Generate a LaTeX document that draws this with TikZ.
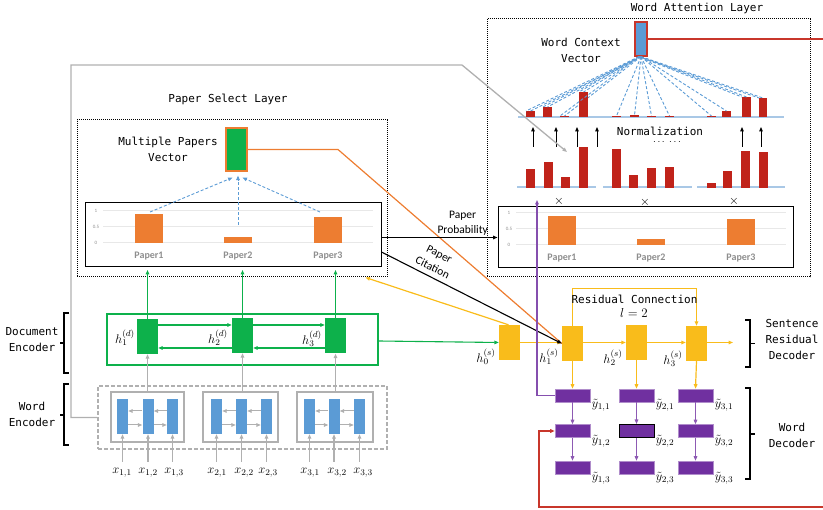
\documentclass[tikz,border=0pt]{standalone}
\usepackage{fix-cm}
\usepackage{fontspec}
\newfontfamily\monof{DejaVu Sans Mono}
\newfontfamily\calf{Carlito}
\usetikzlibrary{arrows.meta,calc}
\definecolor{cgreen}{HTML}{0DB14B}
\definecolor{cblue}{HTML}{5B9BD5}
\definecolor{cred}{HTML}{C0231A}
\definecolor{corange}{HTML}{ED7D31}
\definecolor{cyellow}{HTML}{F9BC1B}
\definecolor{cpurple}{HTML}{7030A0}
\definecolor{clred}{HTML}{C8362B}
\definecolor{cgray}{HTML}{B0B0B0}
\definecolor{cbase}{HTML}{A9C8E6}
\definecolor{cgrid}{HTML}{E8E8E8}
\definecolor{ctxt}{HTML}{8E8E8E}
\tikzset{
  lab/.style={font=\monof\fontsize{11}{16}\selectfont, align=center, inner sep=0},
  sans/.style={font=\calf\fontsize{11.5}{15}\selectfont, align=center, inner sep=1pt},
  mth/.style={font=\fontsize{12.5}{14}\selectfont, inner sep=0},
  tick/.style={font=\calf\fontsize{5}{6}\selectfont, text=ctxt, inner sep=0},
  plab/.style={font=\calf\bfseries\fontsize{10}{11}\selectfont, text=ctxt, inner sep=0},
  dotbox/.style={draw, line width=1pt, dash pattern=on 1pt off 1pt, inner sep=0},
  chartbox/.style={draw, line width=1pt, inner sep=0},
  gnode/.style={fill=cgreen, minimum width=21, minimum height=35, inner sep=0},
  ynode/.style={fill=cyellow, minimum width=21, minimum height=35, inner sep=0},
  pnode/.style={fill=cpurple, draw=cpurple!55, line width=0.6pt, minimum width=35, minimum height=13, inner sep=0},
  bnode/.style={fill=cblue, minimum width=11, minimum height=35, inner sep=0},
  gbox/.style={draw=cgray, line width=1.3pt, minimum height=50, inner sep=0},
  dline/.style={cblue, line width=0.9pt, dash pattern=on 3pt off 2pt},
  garr/.style={cgreen, line width=1.1pt, ->},
  grarr/.style={cgray, line width=1.3pt, ->},
  yarr/.style={cyellow, line width=1.2pt, ->},
  parr/.style={cpurple!80, line width=1.1pt, ->},
  bline/.style={black, line width=1.1pt},
  brc/.style={black, line width=1.2pt},
}
\newcommand\paperchart{%
  \foreach \g in {8,24,40} \draw[cgrid, line width=1pt] (18,\g) -- (288,\g);
  \node[tick] at (11,8) {1};
  \node[tick] at (11,24) {0.5};
  \node[tick] at (11,40) {0};
  \fill[corange] (50,11) rectangle (78,40);
  \fill[corange] (139,34) rectangle (167,40);
  \fill[corange] (229,14) rectangle (257,40);
  \node[plab] at (64,53) {Paper1};
  \node[plab] at (153,53) {Paper2};
  \node[plab] at (243,53) {Paper3};
}
\begin{document}
\begin{tikzpicture}[x=1pt,y=-1pt,>={Triangle[length=4.5pt,width=3.6pt]}]
\useasboundingbox (0,0) rectangle (823,510);

% ---------------- Word Attention Layer ----------------
\node[dotbox, minimum width=323, minimum height=258] (wal) at (648.5,148) {};
\node[lab] (waltitle) at (697,8) {Word Attention Layer};
\node[fill=cblue, draw=clred, line width=1.3pt, minimum width=12, minimum height=34, inner sep=0] (wcv) at (641,39) {};
\node[lab] (wcvlab) at (581,50) {Word Context\\Vector};
\draw[cbase, line width=1.2pt] (518,117) -- (784,117);
\foreach \a/\b/\t in {526/535/111,543/552/107,560/569/116,579/588/92,612/621/116,630/639/115.5,647/656/116,665/674/116,707/716/116,722/731/111,742/751/97,759/767/98} {
  \fill[cred] (\a,\t) rectangle (\b,117.5);
  \draw[dline] (wcv.south) -- ({(\a+\b)/2},\t);
}
\foreach \a/\t in {526/111,543/107,560/116,579/92,742/97,759/98} {
  \draw[dline] ($(wcv.south)+(-2,0)$) -- (\a,\t);
}
\node[lab] (norm) at (660,131) {Normalization};
\node[font=\bfseries\fontsize{10}{10}\selectfont, inner sep=0] (ndots) at (667,142) {$\cdots\;\cdots$};
\foreach \x in {533,556,577,597,742,761} \draw[->, line width=1pt] (\x,147) -- (\x,127);
\foreach \a/\b in {517/596,603/692,697/785} \draw[cbase, line width=1.2pt] (\a,187) -- (\b,187);
\foreach \a/\b/\t in {526/535/169,544/553/162,561/570/177,579/588/147,612/621/149,629/638/175,647/656/168,665/674/167,707/716/183,723/732/171,741/750/151,759/768/152}
  \fill[cred] (\a,\t) rectangle (\b,188.5);
\node[mth] (t1) at (559,201) {$\times$};
\node[mth] (t2) at (645,202) {$\times$};
\node[mth] (t3) at (734,201) {$\times$};
\node[chartbox, minimum width=295, minimum height=61] (rchart) at (645.5,237.5) {};
\begin{scope}[shift={(498,205)}] \paperchart \end{scope}

% ---------------- Paper Select Layer ----------------
\node[dotbox, minimum width=310, minimum height=157] (psl) at (232,198.5) {};
\node[lab] (psltitle) at (228,99) {Paper Select Layer};
\node[fill=cgreen, draw=corange, line width=1.2pt, minimum width=21, minimum height=43, inner sep=0] (mpv) at (236.5,149.5) {};
\node[lab] (mpvlab) at (168,149) {Multiple Papers\\Vector};
\node[chartbox, minimum width=296, minimum height=64] (lchart) at (233,235) {};
\begin{scope}[shift={(85,203)}] \paperchart \end{scope}
\draw[dline,->] (150,212) -- ($(mpv.south)+(-4,6)$);
\draw[dline,->] (238,225) -- ($(mpv.south)+(1.5,4)$);
\draw[dline,->] (320,212) -- ($(mpv.south)+(6,6)$);

% ---------------- Document Encoder ----------------
\node[draw=cgreen, line width=1.2pt, minimum width=271, minimum height=51, inner sep=0] (denc) at (242.5,339.5) {};
\node[gnode] (d1) at (147.5,336.5) {};
\node[gnode] (d2) at (242.5,335.5) {};
\node[gnode] (d3) at (335.5,336) {};
\draw[garr] (d1.east |- 0,325) -- (d2.west |- 0,325);
\draw[garr] (d2.west |- 0,348) -- (d1.east |- 0,348);
\draw[garr] (d2.east |- 0,325) -- (d3.west |- 0,325);
\draw[garr] (d3.west |- 0,348) -- (d2.east |- 0,348);
\node[mth] (hd1) at (125,338) {$h_1^{(d)}$};
\node[mth] (hd2) at (218,338) {$h_2^{(d)}$};
\node[mth] (hd3) at (312,339) {$h_3^{(d)}$};
\foreach \n in {d1,d2,d3} \draw[garr] (\n.north) -- (\n.north |- 0,270);

% ---------------- Word Encoder ----------------
\node[draw=cgray, line width=1.2pt, dash pattern=on 4pt off 2pt, minimum width=289, minimum height=63, inner sep=0] (wenc) at (242.5,417.5) {};
\node[gbox, minimum width=73] (wb1) at (147.5,417) {};
\node[gbox, minimum width=75] (wb2) at (240.5,417) {};
\node[gbox, minimum width=76] (wb3) at (335,417) {};
\foreach \n/\x in {b11/122.5,b12/148,b13/172.5,b21/216.5,b22/241.5,b23/266.5,b31/309.5,b32/334,b33/359.5}
  \node[bnode] (\n) at (\x,416.5) {};
\foreach \g in {1,2,3} {
  \draw[grarr, line width=1pt] (b\g2.west |- 0,411) -- (b\g1.east |- 0,411);
  \draw[grarr, line width=1pt] (b\g3.west |- 0,411) -- (b\g2.east |- 0,411);
  \draw[grarr, line width=1pt] (b\g1.east |- 0,425) -- (b\g2.west |- 0,425);
  \draw[grarr, line width=1pt] (b\g2.east |- 0,425) -- (b\g3.west |- 0,425);
}
\draw[grarr] (d1.south |- wb1.north) -- (d1.south);
\draw[grarr] (d2.south |- wb2.north) -- (d2.south);
\draw[grarr] (d3.south |- wb3.north) -- (d3.south);
\foreach \n/\x/\i/\j in {x11/122/1/1,x12/148/1/2,x13/174/1/3,x21/217/2/1,x22/244/2/2,x23/268/2/3,x31/310/3/1,x32/337/3/2,x33/363/3/3}
  \node[mth] (\n) at (\x,473) {$x_{\i,\j}$};
\foreach \i in {1,2,3} \foreach \j in {1,2,3}
  \draw[grarr] (b\i\j.south |- 0,462) -- (b\i\j.south);

% left braces and labels
\draw[brc] (69,313) -- (64,313) -- (64,373) -- (69,373) (64,343) -- (60,343);
\draw[brc] (69,384) -- (64,384) -- (64,445) -- (69,445) (64,415) -- (60,415);
\node[lab] (delab) at (32,340) {Document\\Encoder};
\node[lab] (welab) at (32,414) {Word\\Encoder};

% ---------------- Sentence Residual Decoder ----------------
\node[ynode] (h0) at (509.5,342.5) {};
\node[ynode] (h1s) at (572.5,343.5) {};
\node[ynode] (h2s) at (636.5,342.5) {};
\node[ynode] (h3s) at (696.5,343.5) {};
\coordinate (hout) at (733,342.5);
\draw[yarr] (h0.east |- 0,342.5) -- (h1s.west |- 0,342.5);
\draw[yarr] (h1s.east |- 0,342.5) -- (h2s.west |- 0,342.5);
\draw[yarr] (h2s.east |- 0,342.5) -- (h3s.west |- 0,342.5);
\draw[yarr] (h3s.east |- 0,342.5) -- (hout);
\draw[yarr] (h1s.north) -- ++(0,-37) -| (h3s.north);
\node[lab] (rclab) at (634.5,299) {Residual Connection};
\node[mth, font=\fontsize{13}{15}\selectfont] (llab) at (634,313) {$l=2$};
\node[mth] (hs0) at (486,357) {$h_0^{(s)}$};
\node[mth] (hs1) at (549,357) {$h_1^{(s)}$};
\node[mth] (hs2) at (613,358) {$h_2^{(s)}$};
\node[mth] (hs3) at (673,359) {$h_3^{(s)}$};

% ---------------- Word Decoder ----------------
\node[pnode] (y11) at (572.5,395.5) {};
\node[pnode] (y12) at (572.5,431) {};
\node[pnode] (y13) at (572.5,467.5) {};
\node[pnode] (y21) at (636.5,395.5) {};
\node[pnode, draw=black, line width=1pt] (y22) at (636.5,431) {};
\node[pnode] (y23) at (636.5,467.5) {};
\node[pnode] (y31) at (695.5,395.5) {};
\node[pnode] (y32) at (695.5,431) {};
\node[pnode] (y33) at (695.5,467.5) {};
\draw[yarr] (h1s.south) -- (y11.north);
\draw[yarr] (h2s.south) -- (y21.north);
\draw[yarr] (h3s.south) -- (y31.north);
\foreach \c in {1,2,3} {
  \draw[parr] (y\c1.south) -- (y\c2.north);
  \draw[parr] (y\c2.south) -- (y\c3.north);
}
\foreach \c/\x in {1/601,2/665,3/724} {
  \node[mth] (ly\c1) at (\x,405) {$\tilde{y}_{\c,1}$};
  \node[mth] (ly\c2) at (\x,441) {$\tilde{y}_{\c,2}$};
  \node[mth] (ly\c3) at (\x,478) {$\tilde{y}_{\c,3}$};
}
% right braces and labels
\draw[brc] (745,320) -- (750,320) -- (750,367) -- (745,367) (750,343.5) -- (755,343.5);
\draw[brc] (745,388) -- (750,388) -- (750,479) -- (745,479) (750,434) -- (755,434);
\node[lab] (srd) at (792,339) {Sentence\\Residual\\Decoder};
\node[lab] (wdl) at (792,435) {Word\\Decoder};

% ---------------- long connectors ----------------
\coordinate (gtarget) at (567,152);
\draw[grarr] (wenc.west) -| (71,65) -- (462,65) -- (gtarget);
\draw[corange, line width=1.2pt] (mpv.east) -- (338,149.5) -- (h1s.west);
\draw[bline,->] (lchart.east |- rchart.west) -- node[sans, pos=0.7, above=1pt] {Paper\\Probability} (rchart.west);
\draw[bline,->] (lchart.east |- 0,252) -- node[sans, pos=0.26, above=4pt, sloped] {Paper\\Citation} (h1s.west);
\draw[yarr] ($(h0.north)+(-1,0)$) -- ($(psl.south east)+(-22,0)$);
\draw[garr] (denc.east |- 0,341) -- (h0.west);
\draw[cpurple!85, line width=1.1pt, ->] (y11.west) -| (537,200);
\draw[clred, line width=1.2pt] (wcv.east) -- (823,39);
\draw[clred, line width=1.2pt, ->] (823,507) -- (539,507) |- (y12.west);
\end{tikzpicture}
\end{document}
